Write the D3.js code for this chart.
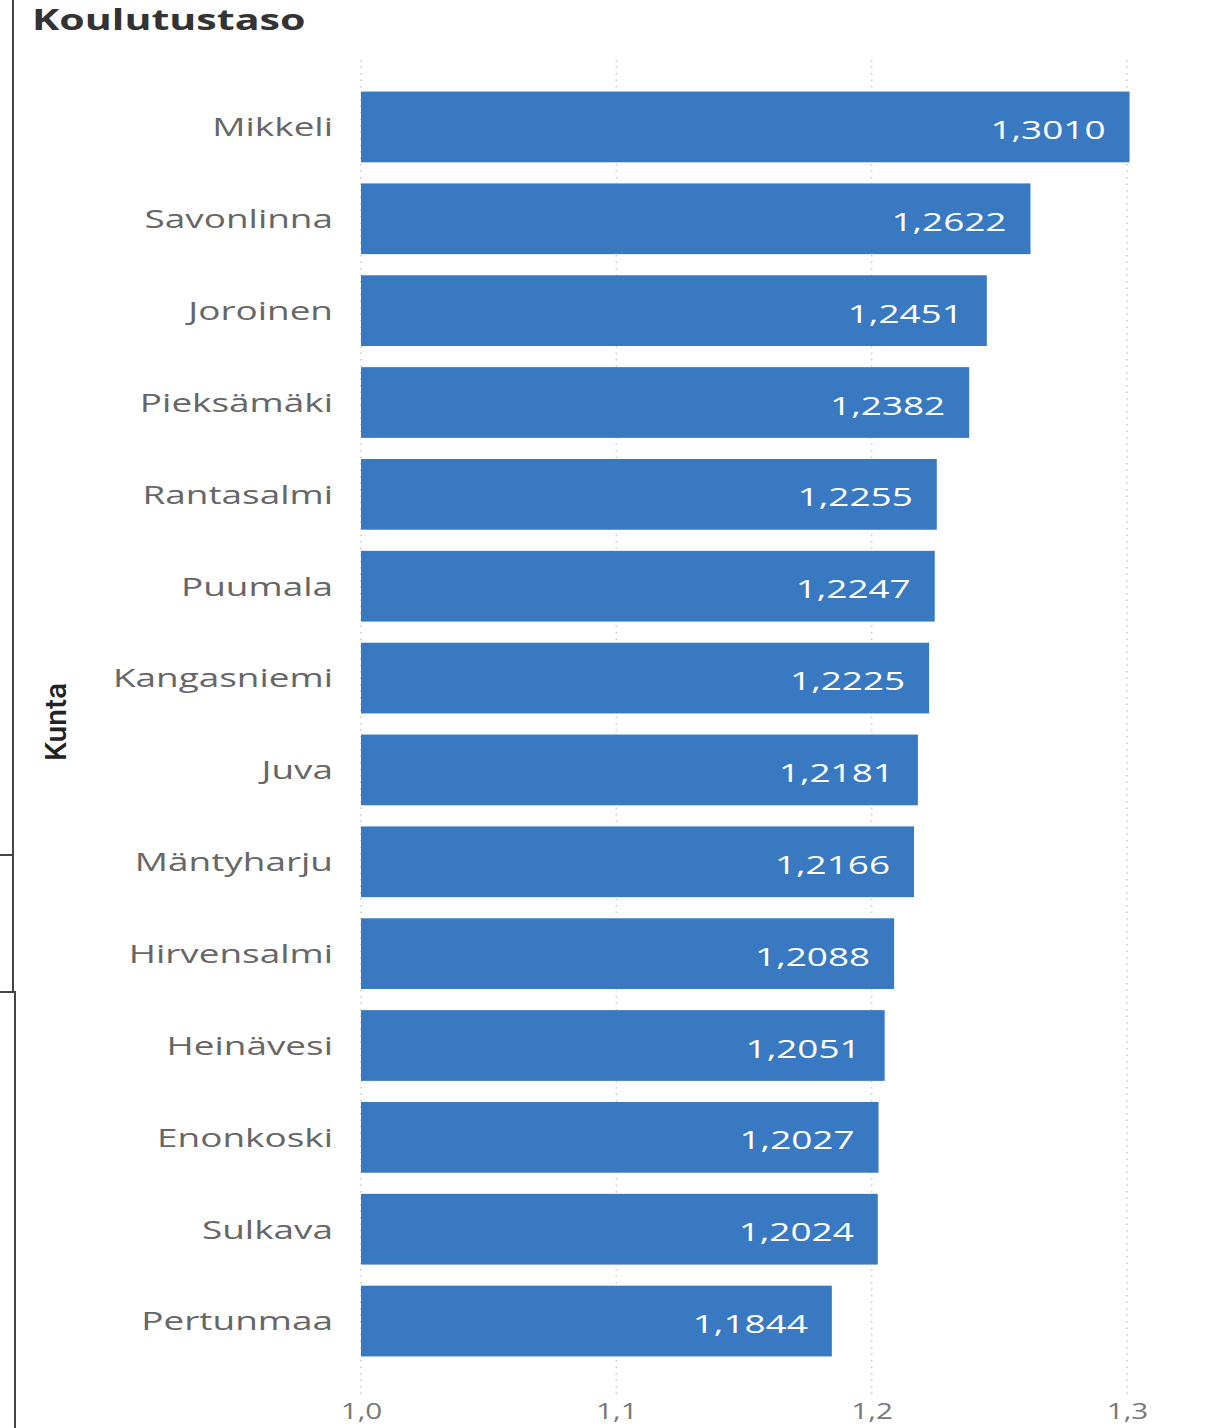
<!DOCTYPE html>
<html>
<head>
<meta charset="utf-8">
<script src="https://cdn.jsdelivr.net/npm/d3@7"></script>
<style>
  body { margin: 0; background: #fff; }
  svg { display: block; }
</style>
</head>
<body>
<script>
// data
var kunnat = ["Mikkeli", "Savonlinna", "Joroinen", "Pieksämäki", "Rantasalmi", "Puumala",
  "Kangasniemi", "Juva", "Mäntyharju", "Hirvensalmi", "Heinävesi", "Enonkoski", "Sulkava", "Pertunmaa"];
var arvot = [1.3010, 1.2622, 1.2451, 1.2382, 1.2255, 1.2247, 1.2225, 1.2181, 1.2166, 1.2088,
  1.2051, 1.2027, 1.2024, 1.1844];
var tikit = [1.0, 1.1, 1.2, 1.3];

var svg_width = 1206;
var svg_height = 1428;

// the screenshot is stretched sideways, so text gets a horizontal scale
var venytys = "scale(1.42,1)";

var svg = d3.select("body")
  .append("svg")
  .attr("width", svg_width)
  .attr("height", svg_height);

// frame edges on the left
var frame = svg.append("g")
  .attr("stroke", "#444")
  .attr("stroke-width", 2)
  .attr("fill", "none");
frame.append("path").attr("d", "M13,0V992H0");
frame.append("path").attr("d", "M0,855H13");
frame.append("path").attr("d", "M13,992H15V1428");

// title
svg.append("text")
  .attr("transform", "translate(32,30) scale(1.47,1)")
  .attr("font-family", "Open Sans, sans-serif")
  .attr("font-weight", 700)
  .attr("font-size", 28)
  .attr("fill", "#333")
  .text("Koulutustaso");

// scales
var x_scale = d3.scaleLinear()
  .domain([1.0, 1.3])
  .range([361, 1127]);

var y_scale = d3.scaleBand()
  .domain(kunnat)
  .range([81, 1367])
  .paddingInner(0.23)
  .paddingOuter(0.115);

// dotted grid lines
svg.append("g")
  .selectAll("line")
  .data(tikit)
  .enter()
  .append("line")
  .attr("x1", function(d) { return x_scale(d); })
  .attr("x2", function(d) { return x_scale(d); })
  .attr("y1", 60)
  .attr("y2", 1396)
  .attr("stroke", "#c8c8c8")
  .attr("stroke-width", 1.5)
  .attr("stroke-dasharray", "1.5,5");

// x axis
var x_axis = d3.axisBottom(x_scale)
  .tickValues(tikit)
  .tickSize(0)
  .tickPadding(0)
  .tickFormat(function(d) { return d3.format(".1f")(d).replace(".", ","); });

var gx = svg.append("g")
  .attr("transform", "translate(0,1403)")
  .call(x_axis);
gx.select(".domain").remove();
gx.selectAll("text")
  .attr("transform", "scale(1.35,1)")
  .attr("font-family", "Open Sans, sans-serif")
  .attr("font-size", 22)
  .attr("fill", "#777");

// y axis (category labels)
var y_axis = d3.axisLeft(y_scale)
  .tickSize(0)
  .tickPadding(0);

var gy = svg.append("g")
  .attr("transform", "translate(333,1)")
  .call(y_axis);
gy.select(".domain").remove();
gy.selectAll("text")
  .attr("transform", venytys)
  .attr("font-family", "Open Sans, sans-serif")
  .attr("font-size", 26)
  .attr("fill", "#666");

// axis title
svg.append("text")
  .attr("transform", "translate(66,722) rotate(-90)")
  .attr("text-anchor", "middle")
  .attr("font-family", "Roboto, sans-serif")
  .attr("font-weight", 500)
  .attr("font-size", 30)
  .attr("fill", "#222")
  .text("Kunta");

// bars
svg.append("g")
  .selectAll("rect")
  .data(arvot)
  .enter()
  .append("rect")
  .attr("x", x_scale(1.0))
  .attr("y", function(d, i) { return y_scale(kunnat[i]); })
  .attr("width", function(d) { return x_scale(d) - x_scale(1.0); })
  .attr("height", y_scale.bandwidth())
  .attr("fill", "#3879c2");

// value labels
svg.append("g")
  .selectAll("text")
  .data(arvot)
  .enter()
  .append("text")
  .attr("transform", function(d, i) {
    var y = y_scale(kunnat[i]) + y_scale.bandwidth() / 2 + 3;
    return "translate(" + (x_scale(d) - 24) + "," + y + ") " + venytys;
  })
  .attr("dy", "0.35em")
  .attr("text-anchor", "end")
  .attr("font-family", "Open Sans, sans-serif")
  .attr("font-size", 26)
  .attr("fill", "#fff")
  .text(function(d) { return d3.format(".4f")(d).replace(".", ","); });
</script>
</body>
</html>
